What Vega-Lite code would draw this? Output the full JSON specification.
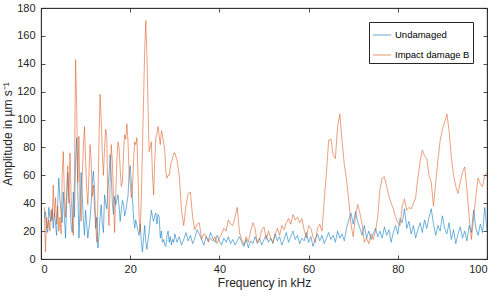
{
"$schema": "https://vega.github.io/schema/vega-lite/v6.json",
"width": 446, "height": 251,
"autosize": {"type": "none"},
"padding": {"left": 41, "top": 8, "right": 13, "bottom": 37},
"background": "white",
"config": {
 "font": "Liberation Sans",
 "view": {"stroke": "#262626", "strokeWidth": 0.8},
 "axis": {"grid": false, "domainColor": "#262626", "domainWidth": 0.8, "tickColor": "#262626", "tickWidth": 0.8, "tickSize": -4, "labelFontSize": 11, "labelColor": "#262626", "titleFontSize": 12, "titleFontWeight": "normal", "titleColor": "#262626"}
},
"data": {"values": [
{"f":0.75,"u":30,"d":37},{"f":1.0,"u":34,"d":5},{"f":1.25,"u":22,"d":30},{"f":1.5,"u":19,"d":22},{"f":1.75,"u":37,"d":28},
{"f":2.0,"u":30,"d":20},{"f":2.25,"u":27,"d":35},{"f":2.5,"u":36,"d":28},{"f":2.75,"u":22,"d":53},{"f":3.0,"u":33,"d":30},
{"f":3.25,"u":25,"d":44},{"f":3.5,"u":17,"d":25},{"f":3.75,"u":40,"d":38},{"f":4.0,"u":58,"d":20},{"f":4.25,"u":42,"d":30},
{"f":4.5,"u":33,"d":18},{"f":4.75,"u":26,"d":60},{"f":5.0,"u":48,"d":77},{"f":5.25,"u":30,"d":45},{"f":5.5,"u":15,"d":30},
{"f":5.75,"u":40,"d":50},{"f":6.0,"u":62,"d":67},{"f":6.25,"u":45,"d":40},{"f":6.5,"u":39,"d":76},{"f":6.75,"u":25,"d":45},
{"f":7.0,"u":19,"d":30},{"f":7.25,"u":48,"d":17},{"f":7.5,"u":30,"d":60},{"f":7.75,"u":70,"d":143},{"f":8.0,"u":87,"d":110},
{"f":8.25,"u":50,"d":55},{"f":8.5,"u":15,"d":88},{"f":8.75,"u":35,"d":40},{"f":9.0,"u":62,"d":27},{"f":9.25,"u":45,"d":60},
{"f":9.5,"u":28,"d":80},{"f":9.75,"u":17,"d":95},{"f":10.0,"u":35,"d":70},{"f":10.25,"u":25,"d":50},{"f":10.5,"u":15,"d":39},
{"f":10.75,"u":22,"d":60},{"f":11.0,"u":29,"d":82},{"f":11.25,"u":40,"d":70},{"f":11.5,"u":55,"d":45},{"f":11.75,"u":63,"d":53},
{"f":12.0,"u":50,"d":38},{"f":12.25,"u":22,"d":25},{"f":12.5,"u":30,"d":12},{"f":12.75,"u":8,"d":40},{"f":13.0,"u":17,"d":85},
{"f":13.25,"u":30,"d":118},{"f":13.5,"u":39,"d":100},{"f":13.75,"u":25,"d":75},{"f":14.0,"u":19,"d":60},{"f":14.25,"u":46,"d":80},
{"f":14.5,"u":40,"d":93},{"f":14.75,"u":36,"d":88},{"f":15.0,"u":50,"d":40},{"f":15.25,"u":60,"d":24},{"f":15.5,"u":75,"d":55},
{"f":15.75,"u":60,"d":82},{"f":16.0,"u":40,"d":70},{"f":16.25,"u":32,"d":45},{"f":16.5,"u":45,"d":19},{"f":16.75,"u":39,"d":45},
{"f":17.0,"u":42,"d":70},{"f":17.25,"u":46,"d":84},{"f":17.5,"u":38,"d":80},{"f":17.75,"u":27,"d":65},{"f":18.0,"u":35,"d":52},
{"f":18.25,"u":42,"d":55},{"f":18.5,"u":39,"d":75},{"f":18.75,"u":31,"d":89},{"f":19.0,"u":34,"d":86},{"f":19.25,"u":40,"d":97},
{"f":19.5,"u":45,"d":85},{"f":19.75,"u":60,"d":62},{"f":20.0,"u":67,"d":55},{"f":20.25,"u":55,"d":44},{"f":20.5,"u":44,"d":50},
{"f":20.75,"u":30,"d":70},{"f":21.0,"u":22,"d":84},{"f":21.25,"u":28,"d":82},{"f":21.5,"u":24,"d":87},{"f":21.75,"u":20,"d":60},
{"f":22.0,"u":17,"d":30},{"f":22.25,"u":25,"d":19},{"f":22.5,"u":12,"d":45},{"f":22.75,"u":5,"d":80},{"f":23.0,"u":15,"d":115},
{"f":23.25,"u":24,"d":150},{"f":23.5,"u":12,"d":171},{"f":23.75,"u":7,"d":145},{"f":24.0,"u":14,"d":110},{"f":24.25,"u":19,"d":77},
{"f":24.5,"u":28,"d":80},{"f":24.75,"u":35,"d":84},{"f":25.0,"u":30,"d":60},{"f":25.25,"u":27,"d":46},{"f":25.5,"u":31,"d":70},
{"f":25.75,"u":33,"d":87},{"f":26.0,"u":25,"d":90},{"f":26.25,"u":32,"d":95},{"f":26.5,"u":30,"d":88},{"f":26.75,"u":15,"d":82},
{"f":27.0,"u":20,"d":92},{"f":27.25,"u":12,"d":89},{"f":27.5,"u":14,"d":83},{"f":27.75,"u":10,"d":78},{"f":28.0,"u":9,"d":62},
{"f":28.25,"u":17,"d":58},{"f":28.5,"u":20,"d":60},{"f":28.75,"u":12,"d":60},{"f":29.0,"u":16,"d":66},{"f":29.25,"u":10,"d":70},
{"f":29.5,"u":14,"d":72},{"f":29.75,"u":12,"d":76},
{"f":30,"u":18,"d":76},{"f":30.5,"u":12,"d":71},{"f":31,"u":16,"d":60},{"f":31.5,"u":10,"d":35},{"f":32,"u":14,"d":24},
{"f":32.5,"u":19,"d":38},{"f":33,"u":13,"d":47},{"f":33.5,"u":17,"d":48},{"f":34,"u":11,"d":30},{"f":34.5,"u":15,"d":21},
{"f":35,"u":21,"d":25},{"f":35.5,"u":18,"d":26},{"f":36,"u":14,"d":14},{"f":36.5,"u":10,"d":18},{"f":37,"u":16,"d":17},
{"f":37.5,"u":13,"d":12},{"f":38,"u":19,"d":15},{"f":38.5,"u":15,"d":13},{"f":39,"u":12,"d":16},{"f":39.5,"u":17,"d":11},
{"f":40,"u":13,"d":15},{"f":40.5,"u":10,"d":18},{"f":41,"u":15,"d":22},{"f":41.5,"u":12,"d":20},{"f":42,"u":16,"d":28},
{"f":42.5,"u":11,"d":25},{"f":43,"u":14,"d":24},{"f":43.5,"u":10,"d":30},{"f":44,"u":13,"d":37},{"f":44.5,"u":16,"d":19},
{"f":45,"u":12,"d":14},{"f":45.5,"u":9,"d":10},{"f":46,"u":14,"d":16},{"f":46.5,"u":8,"d":12},{"f":47,"u":13,"d":20},
{"f":47.5,"u":11,"d":26},{"f":48,"u":16,"d":22},{"f":48.5,"u":12,"d":11},{"f":49,"u":15,"d":14},{"f":49.5,"u":10,"d":21},
{"f":50,"u":14,"d":23},{"f":50.5,"u":17,"d":14},{"f":51,"u":12,"d":20},{"f":51.5,"u":15,"d":15},{"f":52,"u":11,"d":12},
{"f":52.5,"u":18,"d":18},{"f":53,"u":13,"d":22},{"f":53.5,"u":16,"d":17},{"f":54,"u":10,"d":24},{"f":54.5,"u":14,"d":21},
{"f":55,"u":19,"d":26},{"f":55.5,"u":12,"d":29},{"f":56,"u":16,"d":25},{"f":56.5,"u":20,"d":32},{"f":57,"u":14,"d":28},
{"f":57.5,"u":17,"d":30},{"f":58,"u":11,"d":26},{"f":58.5,"u":15,"d":29},{"f":59,"u":13,"d":21},{"f":59.5,"u":19,"d":15},
{"f":60,"u":12,"d":24},{"f":60.5,"u":16,"d":22},{"f":61,"u":9,"d":16},{"f":61.5,"u":14,"d":12},{"f":62,"u":18,"d":22},
{"f":62.5,"u":13,"d":25},{"f":63,"u":17,"d":20},{"f":63.5,"u":11,"d":42},{"f":64,"u":15,"d":62},{"f":64.5,"u":19,"d":85},
{"f":65,"u":14,"d":86},{"f":65.5,"u":17,"d":75},{"f":66,"u":12,"d":72},{"f":66.5,"u":20,"d":95},{"f":67,"u":15,"d":104},
{"f":67.5,"u":18,"d":85},{"f":68,"u":13,"d":68},{"f":68.5,"u":22,"d":57},{"f":69,"u":28,"d":42},{"f":69.5,"u":33,"d":25},
{"f":70,"u":25,"d":16},{"f":70.5,"u":34,"d":30},{"f":71,"u":27,"d":39},{"f":71.5,"u":22,"d":33},{"f":72,"u":17,"d":25},
{"f":72.5,"u":24,"d":12},{"f":73,"u":15,"d":15},{"f":73.5,"u":20,"d":11},{"f":74,"u":14,"d":18},{"f":74.5,"u":18,"d":14},
{"f":75,"u":22,"d":20},{"f":75.5,"u":16,"d":30},{"f":76,"u":20,"d":50},{"f":76.5,"u":15,"d":58},{"f":77,"u":23,"d":59},
{"f":77.5,"u":17,"d":52},{"f":78,"u":21,"d":45},{"f":78.5,"u":12,"d":40},{"f":79,"u":19,"d":36},{"f":79.5,"u":24,"d":30},
{"f":80,"u":18,"d":26},{"f":80.5,"u":29,"d":24},{"f":81,"u":26,"d":38},{"f":81.5,"u":36,"d":43},{"f":82,"u":22,"d":35},
{"f":82.5,"u":27,"d":37},{"f":83,"u":18,"d":36},{"f":83.5,"u":24,"d":40},{"f":84,"u":15,"d":44},{"f":84.5,"u":21,"d":58},
{"f":85,"u":26,"d":70},{"f":85.5,"u":19,"d":78},{"f":86,"u":28,"d":74},{"f":86.5,"u":22,"d":72},{"f":87,"u":30,"d":60},
{"f":87.5,"u":36,"d":55},{"f":88,"u":25,"d":38},{"f":88.5,"u":17,"d":55},{"f":89,"u":24,"d":71},{"f":89.5,"u":20,"d":85},
{"f":90,"u":31,"d":93},{"f":90.5,"u":22,"d":98},{"f":91,"u":18,"d":104},{"f":91.5,"u":26,"d":92},{"f":92,"u":14,"d":73},
{"f":92.5,"u":21,"d":60},{"f":93,"u":11,"d":52},{"f":93.5,"u":18,"d":47},{"f":94,"u":23,"d":55},{"f":94.5,"u":15,"d":62},
{"f":95,"u":20,"d":66},{"f":95.5,"u":13,"d":50},{"f":96,"u":24,"d":30},{"f":96.5,"u":19,"d":14},{"f":97,"u":35,"d":30},
{"f":97.5,"u":22,"d":45},{"f":98,"u":17,"d":58},{"f":98.5,"u":25,"d":54},{"f":99,"u":19,"d":52},{"f":99.5,"u":37,"d":60},
{"f":100,"u":20,"d":62}
]},
"resolve": {"axis": {"x": "independent", "y": "independent"}},
"layer": [
 {
  "mark": {"type": "line", "strokeWidth": 1, "strokeOpacity": 0.55},
  "encoding": {
   "x": {"field": "f", "type": "quantitative", "scale": {"domain": [0, 100], "nice": false}, "axis": {"orient": "bottom", "values": [0,20,40,60,80,100], "title": "Frequency in kHz", "labelPadding": 8, "titlePadding": 3}},
   "y": {"field": "u", "type": "quantitative", "scale": {"domain": [0, 180], "nice": false}, "axis": {"orient": "left", "values": [0,20,40,60,80,100,120,140,160,180], "title": "Amplitude in µm s⁻¹", "labelPadding": 10, "titlePadding": 2}},
   "color": {"datum": "Undamaged", "type": "nominal", "scale": {"domain": ["Undamaged", "Impact damage B"], "range": ["#0072BD", "#D95319"]},
    "legend": {"orient": "none", "legendX": 328, "legendY": 14, "title": null, "symbolType": "stroke", "symbolStrokeWidth": 1.5, "symbolOpacity": 0.4, "symbolSize": 340, "labelFontSize": 9.5, "labelColor": "#000000", "fillColor": "white", "strokeColor": "#262626", "padding": 3, "rowPadding": 5, "labelOffset": 3}}
  }
 },
 {
  "mark": {"type": "line", "strokeWidth": 1, "strokeOpacity": 0.55},
  "encoding": {
   "x": {"field": "f", "type": "quantitative", "axis": {"orient": "top", "values": [0,20,40,60,80,100], "labels": false, "title": null}},
   "y": {"field": "d", "type": "quantitative", "axis": {"orient": "right", "values": [0,20,40,60,80,100,120,140,160,180], "labels": false, "title": null}},
   "color": {"datum": "Impact damage B", "type": "nominal"}
  }
 }
]
}
